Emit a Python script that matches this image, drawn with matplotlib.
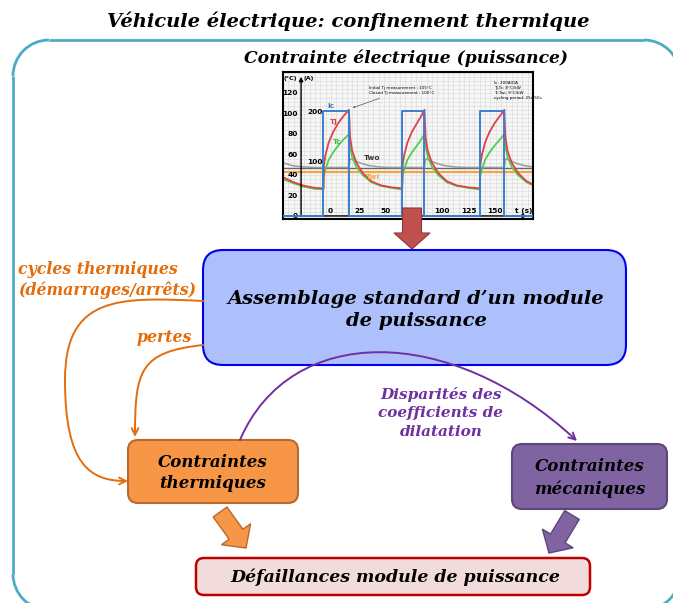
import matplotlib
matplotlib.use('Agg')
import matplotlib.pyplot as plt
from matplotlib.patches import FancyBboxPatch, FancyArrow, FancyArrowPatch, Arc
from matplotlib.path import Path

t_ic = [-40, -2, -2, 22, 22, 72, 72, 93, 93, 145, 145, 168, 168, 195]
ic = [0, 0, 200, 200, 0, 0, 200, 200, 0, 0, 200, 200, 0, 0]

t_T = [-40, -30, -20, -10, -2, -1.5, 0, 3, 7, 12, 17, 22,
       23, 25, 29, 35, 43, 52, 62, 72,
       72.5, 74, 77, 81, 86, 90, 93,
       94, 96, 100, 106, 114, 123, 134, 145,
       145.5, 147, 150, 154, 159, 164, 168,
       169, 171, 175, 181, 189, 195]
tj = [38, 33, 29.5, 27.5, 27, 50, 60, 72, 82, 91, 98, 104,
      78, 64, 52, 42, 34, 30, 28, 27,
      50, 60, 72, 82, 91, 98, 104,
      78, 64, 52, 42, 34, 30, 28, 27,
      50, 60, 72, 82, 91, 98, 104,
      78, 64, 52, 42, 34, 31]
tc = [36, 32, 28.5, 26.5, 26, 40, 46, 55, 62, 69, 75, 80,
      68, 58, 48, 40, 33, 29.5, 27.5, 26,
      40, 46, 55, 62, 69, 75, 80,
      68, 58, 48, 40, 33, 29.5, 27.5, 26,
      40, 46, 55, 62, 69, 75, 80,
      68, 58, 48, 40, 33, 30]

t_two = [-40, -30, -20, -10, -2, 22, 23, 26, 32, 40, 50, 60, 72, 93, 94, 97,
         103, 111, 121, 131, 145, 168, 169, 172, 178, 186, 195]
two = [52, 49, 48, 47.5, 47.5, 47.5, 56, 55, 52, 49.5, 48, 47.5, 47.5, 47.5, 56, 55,
       52, 49.5, 48, 47.5, 47.5, 47.5, 56, 55, 52, 49.5, 48]
t_twi = [-40, 195]
twi = [43, 43]

t_ticks = [0, 25, 50, 75, 100, 125, 150]
T_ticks = [0, 20, 40, 60, 80, 100, 120]

# --- diagram texts ---
title = "Véhicule électrique: confinement thermique"
subtitle = "Contrainte électrique (puissance)"
box_main = "Assemblage standard d\u2019un module\nde puissance"
box_therm = "Contraintes\nthermiques"
box_meca = "Contraintes\nmécaniques"
box_fail = "Défaillances module de puissance"
lbl_cycles = "cycles thermiques\n(démarrages/arrêts)"
lbl_pertes = "pertes"
lbl_dilat = "Disparités des\ncoefficients de\ndilatation"

plt.rcParams['font.family'] = ['DejaVu Serif']
ORANGE_TXT = '#E46C0A'
PURPLE_TXT = '#7030A0'
FRAME = '#4BACC6'

fig = plt.figure(figsize=(6.73, 6.03), dpi=100)
ax = fig.add_axes([0, 0, 1, 1])
ax.set_xlim(0, 673)
ax.set_ylim(603, 0)
ax.axis('off')

def box(x0, y0, x1, y1, fc, ec, r, lw):
    p = FancyBboxPatch((x0, y0), x1 - x0, y1 - y0,
                       boxstyle=f"round,pad=0,rounding_size={r}",
                       fc=fc, ec=ec, lw=lw)
    ax.add_patch(p)

def txt(x, y, s, size, color='black', ls=1.25, ha='center'):
    ax.text(x, y, s, ha=ha, va='center', fontsize=size, color=color,
            style='italic', weight='bold', linespacing=ls, multialignment=ha)

# outer frame (lines + circular corners), right and bottom run off the page
fx0, fy0, fx1, fy1, fr = 13, 40, 680, 610, 36
lw_f = 2.0
ax.plot([fx0 + fr, fx1 - fr], [fy0, fy0], color=FRAME, lw=lw_f, solid_capstyle='butt')
ax.plot([fx0 + fr, fx1 - fr], [fy1, fy1], color=FRAME, lw=lw_f, solid_capstyle='butt')
ax.plot([fx0, fx0], [fy0 + fr, fy1 - fr], color=FRAME, lw=lw_f, solid_capstyle='butt')
ax.plot([fx1, fx1], [fy0 + fr, fy1 - fr], color=FRAME, lw=lw_f, solid_capstyle='butt')
for (cx, cy, a1, a2) in [(fx0 + fr, fy0 + fr, 180, 270), (fx1 - fr, fy0 + fr, 270, 360),
                         (fx1 - fr, fy1 - fr, 0, 90), (fx0 + fr, fy1 - fr, 90, 180)]:
    ax.add_patch(Arc((cx, cy), 2 * fr, 2 * fr, theta1=a1, theta2=a2, color=FRAME, lw=lw_f))

txt(348, 21, title, 14)
txt(406, 58, subtitle, 12.3)

# boxes
box(203, 250, 626, 365, '#AEC0FB', '#0000F0', 20, 1.5)
txt(416, 310, box_main, 14, ls=1.3)
box(128, 440, 298, 503, '#F79646', '#B7692F', 10, 1.5)
txt(213, 473, box_therm, 12, ls=1.35)
box(512, 444, 667, 509, '#8064A2', '#5C4778', 10, 1.5)
txt(590, 478, box_meca, 12, ls=1.35)
box(196, 558, 590, 595, '#F2DCDB', '#C00000', 8, 1.8)
txt(395, 577, box_fail, 12.5)

# block arrows
red = FancyArrow(412, 208, 0, 41, width=19, head_width=36, head_length=16,
                 length_includes_head=True, fc='#C0504D', ec='#8C3836', lw=0.8,
                 transform=ax.transData, zorder=5)
fig.add_artist(red)
ax.add_patch(FancyArrow(220, 512, 26, 36, width=17, head_width=36, head_length=17,
                        length_includes_head=True, fc='#F79646', ec='#B7692F', lw=1))
ax.add_patch(FancyArrow(572, 515, -23, 38, width=17, head_width=36, head_length=17,
                        length_includes_head=True, fc='#8064A2', ec='#5C4778', lw=1))

# curved arrows
def curve(verts, color):
    codes = [Path.MOVETO] + [Path.CURVE4] * (len(verts) - 1)
    ax.add_patch(FancyArrowPatch(path=Path(verts, codes), arrowstyle='->',
                                 mutation_scale=12, color=color, lw=1.4))

curve([(203, 301), (120, 297), (65, 295), (65, 380),
       (65, 465), (90, 481), (128, 481)], ORANGE_TXT)
curve([(203, 345), (140, 352), (135, 370), (135, 437)], ORANGE_TXT)
curve([(240, 440), (290, 323), (450, 323), (577, 441)], PURPLE_TXT)

txt(18, 280, lbl_cycles, 11.3, ORANGE_TXT, ha='left')
txt(164, 338, lbl_pertes, 11.3, ORANGE_TXT)
txt(441, 413, lbl_dilat, 11, PURPLE_TXT, ls=1.45)

# --- inset measurement chart ---
ins = fig.add_axes([283 / 673, 1 - 219 / 603, 250 / 673, 147 / 603])
ins.set_xlim(-40, 195)
ins.set_ylim(-3, 141)
ins.set_facecolor('#f6f6f6')
ins.set_xticks(range(-40, 196, 5), minor=True)
ins.set_yticks(range(0, 141, 4), minor=True)
ins.set_xticks([])
ins.set_yticks([])
ins.grid(which='minor', color='#d8d8d8', lw=0.4)
ins.tick_params(which='both', length=0, labelleft=False, labelbottom=False)
for s in ins.spines.values():
    s.set_color('black')
    s.set_linewidth(1.5)

ins.plot(t_twi, twi, color='#F5A445', lw=1.6)
ins.plot([-40, 195], [47, 47], color='#666666', lw=0.9)
ins.plot(t_two, two, color='#9a9a9a', lw=1.1)
ins.plot(t_T, tc, color='#4CD04C', lw=1.3)
ins.plot(t_T, tj, color='#E0404A', lw=1.3)

ins2 = ins.twinx()
ins2.set_ylim(-5.8, 273.8)
ins2.set_yticks([])
ins2.patch.set_visible(False)
for s in ins2.spines.values():
    s.set_visible(False)
ins2.plot(t_ic, ic, color='#3A7FD0', lw=1.4)

sf = dict(fontsize=5.3, weight='bold', family='DejaVu Sans', clip_on=False)
ins.annotate('', xy=(192, 0), xytext=(-40, 0),
             arrowprops=dict(arrowstyle='-|>', color='k', lw=1, mutation_scale=6))
ins.annotate('', xy=(-23, 139), xytext=(-23, -3),
             arrowprops=dict(arrowstyle='-|>', color='k', lw=1, mutation_scale=6))
for t in t_ticks:
    ins.text(t + 2, 1.5, str(t), ha='left', va='bottom', **sf)
ins.text(178, 1.5, 't (s)', ha='left', va='bottom', **sf)
for T in T_ticks:
    ins.text(-26, T, str(T), ha='right', va='center', **sf)
sm = dict(sf, fontsize=4.6)
ins.text(-39.5, 135, '(°C)', ha='left', va='center', **sm)
ins.text(-21, 135, '(A)', ha='left', va='center', **sm)
ins.text(-17, 102, '200', ha='left', va='center', **sf)
ins.text(-17, 53, '100', ha='left', va='center', **sf)
ins.text(2, 108, 'Ic', color='#3A7FD0', ha='left', va='center', **sf)
ins.text(4, 92, 'Tj', color='#E0404A', ha='left', va='center', **sf)
ins.text(7, 72, 'Tc', color='#3CB83C', ha='left', va='center', **sf)
ins.text(36, 57, 'Two', color='#333333', ha='left', va='center', **sf)
ins.text(38, 38, 'Twi', color='#F5A445', ha='left', va='center', **sf)
ins.annotate('Initial Tj measurement : 105°C\nClosed Tj measurement : 100°C',
             xy=(23, 105), xytext=(41, 123), fontsize=3, family='DejaVu Sans',
             va='center', arrowprops=dict(arrowstyle='->', color='#555555', lw=0.5))
ins.text(158, 123, 'Ic: 200A/DA\nTj-Tc: 8°C/kW\nTc-Twi: 9°C/kW\ncycling period: 25s/50s',
         fontsize=3, family='DejaVu Sans', va='center', ha='left', linespacing=1.3)

fig.savefig('out.png', dpi=100)
